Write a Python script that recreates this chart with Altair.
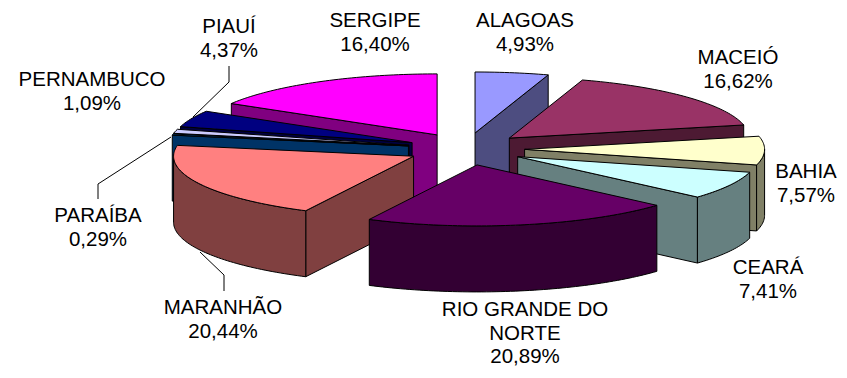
import math
import altair as alt
import pandas as pd

# Chart values
categories = ["ALAGOAS", "MACEIÓ", "BAHIA", "CEARÁ", "RIO GRANDE DO NORTE",
              "MARANHÃO", "PARAÍBA", "PERNAMBUCO", "PIAUÍ", "SERGIPE"]
values = [4.93, 16.62, 7.57, 7.41, 20.89, 20.44, 0.29, 1.09, 4.37, 16.40]
top_colors = ["#9999FF", "#993366", "#FFFFCC", "#CCFFFF", "#660066",
              "#FF8080", "#0066CC", "#CCCCFF", "#000080", "#FF00FF"]
side_colors = ["#4D4D80", "#4D1A33", "#808066", "#668080", "#330033",
               "#804040", "#003366", "#666680", "#000040", "#800080"]
label_lines = [["ALAGOAS", "4,93%"], ["MACEIÓ", "16,62%"], ["BAHIA", "7,57%"],
               ["CEARÁ", "7,41%"], ["RIO GRANDE DO", "NORTE", "20,89%"],
               ["MARANHÃO", "20,44%"], ["PARAÍBA", "0,29%"], ["PERNAMBUCO", "1,09%"],
               ["PIAUÍ", "4,37%"], ["SERGIPE", "16,40%"]]

# Pie geometry (all in pixels of the page image)
CX, CY, RX, RY, EX, EY, DEPTH = 466, 149, 240, 61, 58.6, 16.2, 66
paint_order = [0, 9, 1, 8, 2, 7, 6, 3, 5, 4]

total = sum(values)
starts, acc = [], 0.0
for v in values:
    starts.append(acc / total * 2 * math.pi)
    acc += v

rows = []
pid = 0


def add_poly(pts, fill, stroke="#000000"):
    global pid
    for k, (x, y) in enumerate(pts):
        rows.append({"pid": pid, "k": k, "x": x, "y": y, "fill": fill, "stroke": stroke})
    pid += 1


def arc(ax, ay, a, b, dy=0.0):
    n = max(2, int(abs(b - a) / 0.02))
    return [(ax + RX * math.sin(a + (b - a) * i / n),
             ay - RY * math.cos(a + (b - a) * i / n) + dy) for i in range(n + 1)]


for i in paint_order:
    t0 = starts[i]
    t1 = t0 + values[i] / total * 2 * math.pi
    tm = (t0 + t1) / 2
    ax = CX + EX * math.sin(tm)
    ay = CY - EY * math.cos(tm)
    mx = ax + RX * math.sin(tm)
    my = ay - RY * math.cos(tm)
    # Radial cut faces that look toward the viewer
    for t in (t0, t1):
        px = ax + RX * math.sin(t)
        py = ay - RY * math.cos(t)
        if abs(px - ax) < 1:
            continue
        line_y = ay + (py - ay) * (mx - ax) / (px - ax)
        if my < line_y:
            add_poly([(ax, ay), (px, py), (px, py + DEPTH), (ax, ay + DEPTH), (ax, ay)],
                     side_colors[i])
    # Outer wall, front half only
    a = max(t0, math.pi / 2)
    b = min(t1, 1.5 * math.pi)
    if b > a:
        upper = arc(ax, ay, a, b)
        lower = arc(ax, ay, a, b, DEPTH)
        add_poly(upper + lower[::-1] + [upper[0]], side_colors[i])
    # Top face
    add_poly([(ax, ay)] + arc(ax, ay, t0, t1) + [(ax, ay)], top_colors[i])

df = pd.DataFrame(rows)

PW, PH = 831, 358
x_scale = alt.Scale(domain=[8, 8 + PW], nice=False, zero=False)
y_scale = alt.Scale(domain=[8 + PH, 8], nice=False, zero=False)

pie = alt.Chart(df).mark_line(strokeWidth=1, interpolate="linear", filled=True, clip=False).encode(
    x=alt.X("x:Q", scale=x_scale, axis=None),
    y=alt.Y("y:Q", scale=y_scale, axis=None),
    detail="pid:N",
    order="k:Q",
    fill=alt.Fill("fill:N", scale=None),
    stroke=alt.Stroke("stroke:N", scale=None),
)

# Leader lines
leaders = pd.DataFrame([
    {"g": 0, "k": 0, "x": 229, "y": 66}, {"g": 0, "k": 1, "x": 229, "y": 82}, {"g": 0, "k": 2, "x": 193, "y": 117},
    {"g": 1, "k": 0, "x": 98, "y": 199}, {"g": 1, "k": 1, "x": 98, "y": 184}, {"g": 1, "k": 2, "x": 171, "y": 137},
    {"g": 2, "k": 0, "x": 224, "y": 291}, {"g": 2, "k": 1, "x": 224, "y": 275}, {"g": 2, "k": 2, "x": 200, "y": 252},
])
leader = alt.Chart(leaders).mark_line(color="#000000", strokeWidth=1).encode(
    x=alt.X("x:Q", scale=x_scale, axis=None),
    y=alt.Y("y:Q", scale=y_scale, axis=None),
    detail="g:N",
    order="k:Q",
)

# Data labels: first line centre of each label, with its own line spacing
label_at = [(525, 21, 24.4), (738, 58, 24.4), (806, 172, 24.4), (768, 268, 24.4), (525, 310, 23.5),
            (223, 308, 24.4), (98, 216, 24.4), (92, 80, 24.4), (229, 27, 24.4), (375, 21, 24.4)]
trows = []
for (lx, ly, step), lines in zip(label_at, label_lines):
    for j, s in enumerate(lines):
        trows.append({"x": lx, "y": ly + j * step, "t": s})
labels = alt.Chart(pd.DataFrame(trows)).mark_text(
    font="Liberation Sans", fontSize=20.5, color="#000000", align="center", baseline="middle"
).encode(
    x=alt.X("x:Q", scale=x_scale, axis=None),
    y=alt.Y("y:Q", scale=y_scale, axis=None),
    text="t:N",
)

chart = alt.layer(pie, leader, labels).properties(
    width=PW, height=PH, padding=0, autosize="none", background="#FFFFFF"
).configure_view(stroke=None)

chart.save("out.html", embed_options={"renderer": "svg", "actions": False})
